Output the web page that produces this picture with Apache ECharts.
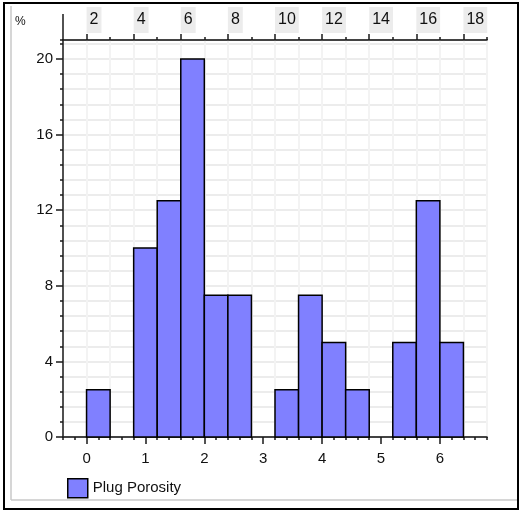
<!DOCTYPE html>
<html>
<head>
<meta charset="utf-8">
<script src="https://cdn.jsdelivr.net/npm/echarts@6/dist/echarts.min.js"></script>
<style>html,body{margin:0;padding:0;background:#fff;}#c{width:522px;height:512px;}</style>
</head>
<body>
<div id="c"></div>
<script>
// ---- data ----
const seriesName = 'Plug Porosity';
const binStarts = [0, 0.4, 0.8, 1.2, 1.6, 2.0, 2.4, 2.8, 3.2, 3.6, 4.0, 4.4, 4.8, 5.2, 5.6, 6.0];
const binWidth = 0.4;
const percents = [2.5, 0, 10, 12.5, 20, 7.5, 7.5, 0, 2.5, 7.5, 5, 2.5, 0, 5, 12.5, 5];
const bottomTickLabels = [0, 1, 2, 3, 4, 5, 6];
const topTickLabels = [2, 4, 6, 8, 10, 12, 14, 16, 18];
const topMinorTicks = [3, 5, 7, 9, 11, 13, 15, 17];
const yTickLabels = [0, 4, 8, 12, 16, 20];

const X_MIN = -0.4, X_MAX = 6.8, Y_MIN = 0, Y_MAX = 21, TOP_MIN = 1, TOP_MAX = 19;
const FONT = '"Liberation Sans", Arial, sans-serif';
const TXT = '#111';
const LINE = '#1a1a1a';

const barData = binStarts.map((s, i) => [s, s + binWidth, percents[i]]);

const chart = echarts.init(document.getElementById('c'), null, {renderer: 'canvas'});
const hidden = {show: false};
chart.setOption({
  animation: false,
  backgroundColor: '#fff',
  grid: {left: 63, right: 35, top: 40, bottom: 75, show: true, borderColor: LINE, borderWidth: 1.5, backgroundColor: '#fff'},
  legend: {
    show: true, left: 62, top: 473, itemWidth: 20, itemHeight: 19, itemGap: 4,
    textStyle: {fontFamily: FONT, fontSize: 15, color: TXT},
    data: [{name: seriesName, icon: 'rect', itemStyle: {color: '#8080ff', borderColor: '#000', borderWidth: 1.5}}]
  },
  xAxis: [
    { // 0: main bottom axis
      type: 'value', position: 'bottom', min: X_MIN, max: X_MAX,
      axisLine: {show: true, onZero: false, lineStyle: {color: LINE, width: 1.5}},
      axisTick: {show: true, length: 7, customValues: bottomTickLabels, lineStyle: {color: LINE, width: 1.5}},
      axisLabel: {show: true, customValues: bottomTickLabels, margin: 14, fontFamily: FONT, fontSize: 15, color: TXT},
      splitLine: hidden
    },
    { // 1: bottom minor ticks every 0.2
      type: 'value', position: 'bottom', min: X_MIN, max: X_MAX, interval: 0.2,
      axisLine: {show: false, onZero: false},
      axisTick: {show: true, length: 3, lineStyle: {color: LINE, width: 1.5}},
      axisLabel: hidden, splitLine: hidden
    },
    { // 2: faint vertical grid at bin edges
      type: 'value', position: 'bottom', min: X_MIN, max: X_MAX, interval: 0.4,
      axisLine: {show: false, onZero: false}, axisTick: hidden, axisLabel: hidden,
      splitLine: {show: true, lineStyle: {color: '#f3f3f3', width: 2}}
    },
    { // 3: top labeled axis
      type: 'value', position: 'top', min: TOP_MIN, max: TOP_MAX,
      axisLine: {show: true, onZero: false, lineStyle: {color: LINE, width: 1.5}},
      axisTick: {show: true, length: 6, customValues: topTickLabels, lineStyle: {color: LINE, width: 1.5}},
      axisLabel: {show: true, customValues: topTickLabels, align: 'left', margin: 7,
        fontFamily: FONT, fontSize: 16, color: TXT, backgroundColor: '#ececec', padding: [5, 3, 5, 3]},
      splitLine: hidden
    },
    { // 4: top minor ticks
      type: 'value', position: 'top', min: TOP_MIN, max: TOP_MAX,
      axisLine: {show: false, onZero: false},
      axisTick: {show: true, length: 3, customValues: topMinorTicks.concat([TOP_MAX]), lineStyle: {color: LINE, width: 1.5}},
      axisLabel: {show: false}, splitLine: hidden
    },
    { // 5: long start tick on top axis
      type: 'value', position: 'top', min: TOP_MIN, max: TOP_MAX,
      axisLine: {show: false, onZero: false},
      axisTick: {show: true, length: 26, customValues: [TOP_MIN], lineStyle: {color: LINE, width: 1.5}},
      axisLabel: {show: false}, splitLine: hidden
    }
  ],
  yAxis: [
    { // 0: main
      type: 'value', min: Y_MIN, max: Y_MAX,
      axisLine: {show: true, onZero: false, lineStyle: {color: LINE, width: 1.5}},
      axisTick: {show: true, length: 7, customValues: yTickLabels, lineStyle: {color: LINE, width: 1.5}},
      axisLabel: {show: true, customValues: yTickLabels, margin: 10, fontFamily: FONT, fontSize: 15, color: TXT},
      splitLine: hidden
    },
    { // 1: minor ticks + horizontal grid every 0.8
      type: 'value', position: 'left', min: Y_MIN, max: Y_MAX, interval: 0.8,
      axisLine: {show: false, onZero: false},
      axisTick: {show: true, length: 3, lineStyle: {color: LINE, width: 1.5}},
      axisLabel: hidden,
      splitLine: {show: true, lineStyle: {color: '#e6e6e6', width: 1.5}}
    }
  ],
  graphic: [
    {type: 'rect', shape: {x: 4, y: 3, width: 514, height: 506}, style: {fill: 'none', stroke: '#000', lineWidth: 2}, silent: true, z: 100},
    {type: 'line', shape: {x1: 11, y1: 6, x2: 11, y2: 500}, style: {stroke: '#c8c8c8', lineWidth: 1.5}, silent: true, z: 100},
    {type: 'line', shape: {x1: 11, y1: 500, x2: 517, y2: 500}, style: {stroke: '#c8c8c8', lineWidth: 1.5}, silent: true, z: 100},
    {type: 'text', left: 15, top: 16, style: {text: '%', font: '12px ' + FONT, fill: TXT}, silent: true}
  ],
  series: [{
    name: seriesName, type: 'custom', xAxisIndex: 0, yAxisIndex: 0,
    data: barData,
    encode: {x: [0, 1], y: 2},
    renderItem: function (params, api) {
      const v = api.value(2);
      if (!v) return null;
      const p0 = api.coord([api.value(0), v]);
      const p1 = api.coord([api.value(1), 0]);
      return {
        type: 'rect',
        shape: {x: p0[0], y: p0[1], width: p1[0] - p0[0], height: p1[1] - p0[1]},
        style: {fill: '#8080ff', stroke: '#000', lineWidth: 1.5}
      };
    },
    itemStyle: {color: '#8080ff', borderColor: '#000', borderWidth: 1.5},
    z: 5
  }]
});
</script>
</body>
</html>
